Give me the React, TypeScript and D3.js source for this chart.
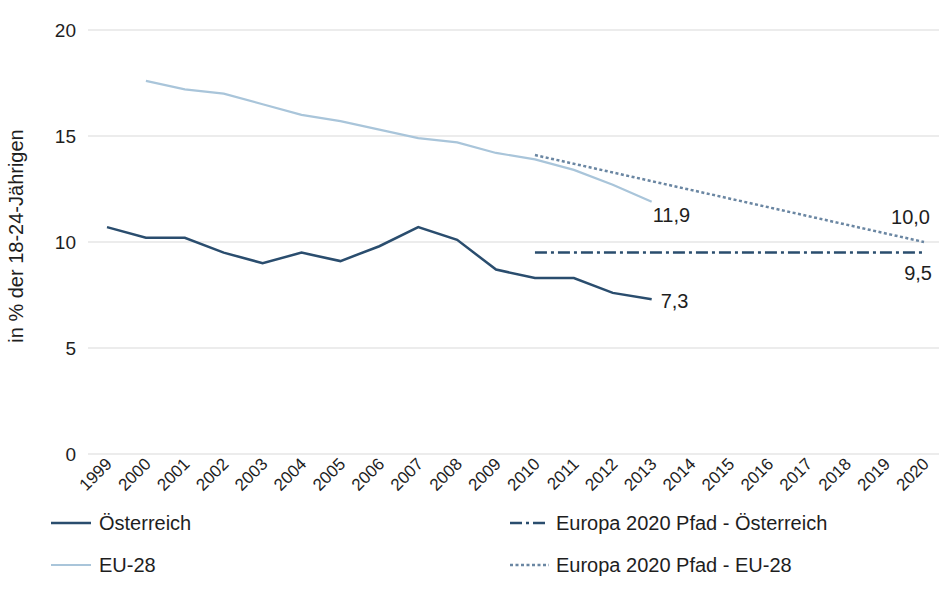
import React from "react";
import * as d3 from "d3";

const years = ["1999","2000","2001","2002","2003","2004","2005","2006","2007","2008","2009","2010","2011","2012","2013","2014","2015","2016","2017","2018","2019","2020"];
const austria: [string, number][] = [["1999",10.7],["2000",10.2],["2001",10.2],["2002",9.5],["2003",9.0],["2004",9.5],["2005",9.1],["2006",9.8],["2007",10.7],["2008",10.1],["2009",8.7],["2010",8.3],["2011",8.3],["2012",7.6],["2013",7.3]];
const eu28: [string, number][] = [["2000",17.6],["2001",17.2],["2002",17.0],["2003",16.5],["2004",16.0],["2005",15.7],["2006",15.3],["2007",14.9],["2008",14.7],["2009",14.2],["2010",13.9],["2011",13.4],["2012",12.7],["2013",11.9]];
const pathAustria: [string, number][] = [["2010",9.5],["2020",9.5]];
const pathEU: [string, number][] = [["2010",14.1],["2020",10.0]];
const yTicks = [0,5,10,15,20];

const W = 939, H = 594;
const FONT = "Liberation Sans, Arial, sans-serif";

export default function App() {
  const x = d3.scalePoint<string>().domain(years).range([107, 924]);
  const y = d3.scaleLinear().domain([0, 20]).range([454, 30]);
  const line = d3.line<[string, number]>().x(d => x(d[0])!).y(d => y(d[1]));
  const cAut = "#2a4d6e";
  const cEU = "#a9c5da";
  const cPathEU = "#6a86a2";
  const txt = "#1e1e1e";
  return (
    <svg width={W} height={H} style={{ position: "absolute", left: 0, top: 0, background: "#fff" }} fontFamily={FONT}>
      {yTicks.map(t => (
        <g key={t}>
          <line x1={88} x2={939} y1={y(t)} y2={y(t)} stroke="#d9d9d9" strokeWidth={1} />
          <text x={76} y={y(t)} dy="0.35em" textAnchor="end" fontSize={19} fill={txt}>{t}</text>
        </g>
      ))}
      <text transform={`translate(23,${236}) rotate(-90)`} textAnchor="middle" fontSize={20} fill={txt}>in % der 18-24-Jährigen</text>
      {years.map(yr => (
        <text key={yr} transform={`translate(${x(yr)! + 6},${465}) rotate(-45)`} textAnchor="end" fontSize={17} fill={txt}>{yr}</text>
      ))}
      <path d={line(eu28)!} fill="none" stroke={cEU} strokeWidth={2.2} />
      <path d={line(austria)!} fill="none" stroke={cAut} strokeWidth={2.5} />
      <path d={line(pathAustria)!} fill="none" stroke={cAut} strokeWidth={2.5} strokeDasharray="12,4,3,4" />
      <path d={line(pathEU)!} fill="none" stroke={cPathEU} strokeWidth={2.5} strokeDasharray="3,2.5" />
      <text x={x("2013")! + 1} y={y(11.9) + 20} fontSize={20} fill={txt}>11,9</text>
      <text x={x("2013")! + 9} y={y(7.3) + 9} fontSize={20} fill={txt}>7,3</text>
      <text x={x("2020")! + 6} y={y(10.0) - 18} textAnchor="end" fontSize={20} fill={txt}>10,0</text>
      <text x={x("2020")! + 8} y={y(9.5) + 27} textAnchor="end" fontSize={20} fill={txt}>9,5</text>
      <g fontSize={20} fill={txt}>
        <line x1={51} x2={91} y1={523} y2={523} stroke={cAut} strokeWidth={2.5} />
        <text x={99} y={523} dy="0.35em">Österreich</text>
        <line x1={51} x2={91} y1={565} y2={565} stroke={cEU} strokeWidth={2.2} />
        <text x={99} y={565} dy="0.35em">EU-28</text>
        <line x1={510} x2={549} y1={523} y2={523} stroke={cAut} strokeWidth={2.5} strokeDasharray="12,4,3,4" />
        <text x={556} y={523} dy="0.35em">Europa 2020 Pfad - Österreich</text>
        <line x1={510} x2={549} y1={565} y2={565} stroke={cPathEU} strokeWidth={2.5} strokeDasharray="3,2.5" />
        <text x={556} y={565} dy="0.35em">Europa 2020 Pfad - EU-28</text>
      </g>
    </svg>
  );
}
